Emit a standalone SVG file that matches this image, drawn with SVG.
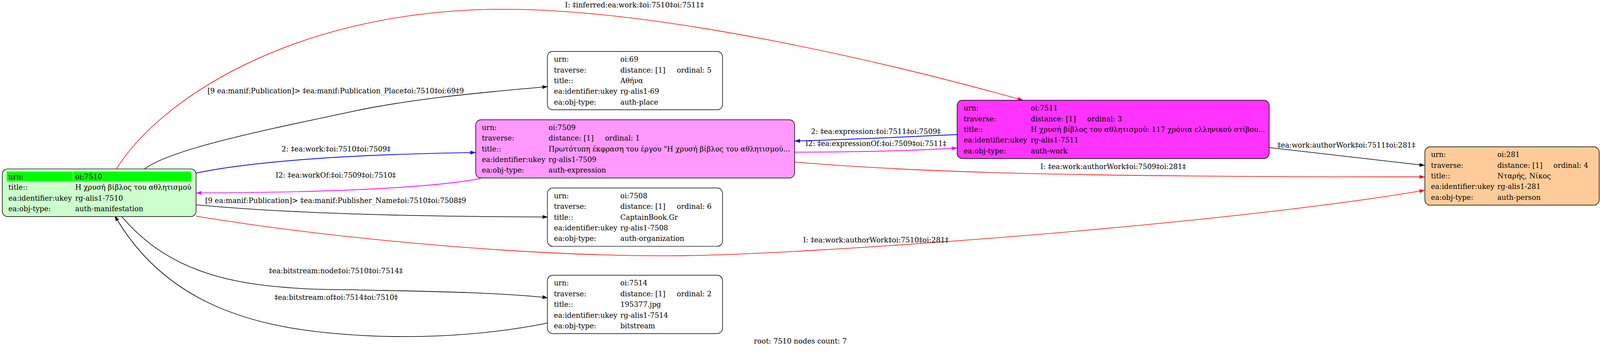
<svg xmlns="http://www.w3.org/2000/svg" width="4199" height="917" viewBox="0 0 4199 917">
<style>
text{font-family:"DejaVu Serif","Liberation Serif",serif;font-size:18.67px;fill:#000}
.lbl{text-anchor:middle}
.box{stroke:#000;stroke-width:1.5}
.e{fill:none;stroke-width:1.6}
.k{stroke:#000}.r{stroke:#ff0000}.b{stroke:#0000ff;stroke-width:2}.m{stroke:#ff00ff;stroke-width:2}
</style>
<defs>
<marker id="ak" markerUnits="userSpaceOnUse" markerWidth="16" markerHeight="12" refX="14" refY="5" orient="auto"><path d="M0,0L14,5L0,10z" fill="#000"/></marker>
<marker id="ar" markerUnits="userSpaceOnUse" markerWidth="16" markerHeight="12" refX="14" refY="5" orient="auto"><path d="M0,0L14,5L0,10z" fill="#ff0000"/></marker>
<marker id="ab" markerUnits="userSpaceOnUse" markerWidth="16" markerHeight="12" refX="14" refY="5" orient="auto"><path d="M0,0L14,5L0,10z" fill="#0000ff"/></marker>
<marker id="am" markerUnits="userSpaceOnUse" markerWidth="16" markerHeight="12" refX="14" refY="5" orient="auto"><path d="M0,0L14,5L0,10z" fill="#ff00ff"/></marker>
</defs>
<rect width="4199" height="917" fill="#fff"/>
<g id="graph" transform="scale(0.9766)">
<g id="connectors">
<path class="e r" marker-end="url(#ar)" d="M305,443 C420,260 760,40 1267,25 C1700,12 2350,170 2682,263"/>
<path class="e k" marker-end="url(#ak)" d="M379,443 C450,390 700,340 925,292 C1100,255 1300,240 1436,227"/>
<path class="e b" marker-end="url(#ab)" d="M514,454 C650,425 900,405 1247,400"/>
<path class="e m" marker-end="url(#am)" d="M1260,468 C1150,490 900,505 514,506"/>
<path class="e k" marker-end="url(#ak)" d="M514,537 C700,555 1000,568 1436,569"/>
<path class="e r" marker-end="url(#ar)" d="M514,567 C900,630 1400,672 1755,671 C2100,670 3200,590 3735,499"/>
<path class="e k" marker-end="url(#ak)" d="M319,568 C450,720 620,760 925,760 C1100,764 1300,766 1436,781"/>
<path class="e k" marker-end="url(#ak)" d="M1436,847 C1250,885 1050,890 880,875 C650,855 430,790 301,566"/>
<path class="e b" marker-end="url(#ab)" d="M2509,353 C2400,358 2250,365 2083,370"/>
<path class="e m" marker-end="url(#am)" d="M2083,399 C2250,399 2400,395 2509,388"/>
<path class="e r" marker-end="url(#ar)" d="M2083,425 C2400,452 2800,464 3735,464"/>
<path class="e k" marker-end="url(#ak)" d="M3327,387 L3735,434"/>
<text class="lbl" x="1663" y="19">I: ‡inferred:ea:work:‡oi:7510‡oi:7511‡</text>
<text class="lbl" x="880" y="245">[9 ea:manif:Publication]&gt; ‡ea:manif:Publication_Place‡oi:7510‡oi:69‡9</text>
<text class="lbl" x="881" y="397">2: ‡ea:work:‡oi:7510‡oi:7509‡</text>
<text class="lbl" x="880" y="466">I2: ‡ea:workOf:‡oi:7509‡oi:7510‡</text>
<text class="lbl" x="880" y="532">[9 ea:manif:Publication]&gt; ‡ea:manif:Publisher_Name‡oi:7510‡oi:7508‡9</text>
<text class="lbl" x="2296" y="636">I: ‡ea:work:authorWork‡oi:7510‡oi:281‡</text>
<text class="lbl" x="880" y="717">‡ea:bitstream:node‡oi:7510‡oi:7514‡</text>
<text class="lbl" x="881" y="786">‡ea:bitstream:of‡oi:7514‡oi:7510‡</text>
<text class="lbl" x="2296" y="351">2: ‡ea:expression:‡oi:7511‡oi:7509‡</text>
<text class="lbl" x="2296" y="383">I2: ‡ea:expressionOf:‡oi:7509‡oi:7511‡</text>
<text class="lbl" x="2918" y="443">I: ‡ea:work:authorWork‡oi:7509‡oi:281‡</text>
<text class="lbl" x="3529" y="387">‡ea:work:authorWork‡oi:7511‡oi:281‡</text>
</g>
<g id="n7510">
<rect class="box" x="6" y="443" width="508" height="125" rx="14" fill="#ccffcc"/>
<rect x="18" y="450" width="173" height="26" fill="#00ff00"/>
<rect x="193" y="450" width="308" height="26" fill="#00ff00"/>
<text x="22" y="470">urn:</text><text x="197" y="470">oi:7510</text>
<text x="22" y="498">title::</text><text x="197" y="498">Η χρυσή βίβλος του αθλητισμού</text>
<text x="22" y="526">ea:identifier:ukey</text><text x="197" y="526">rg-alis1-7510</text>
<text x="22" y="554">ea:obj-type:</text><text x="197" y="554">auth-manifestation</text>
</g>
<g id="n69">
<rect class="box" x="1435" y="135" width="459" height="153" rx="14" fill="#fff"/>
<text x="1452" y="162">urn:</text><text x="1626" y="162">oi:69</text>
<text x="1452" y="190">traverse:</text><text x="1626" y="190">distance: [1]</text><text x="1774" y="190">ordinal: 5</text>
<text x="1452" y="218">title::</text><text x="1626" y="218">Αθήνα</text>
<text x="1452" y="246">ea:identifier:ukey</text><text x="1626" y="246">rg-alis1-69</text>
<text x="1452" y="274">ea:obj-type:</text><text x="1626" y="274">auth-place</text>
</g>
<g id="n7509">
<rect class="box" x="1247" y="314" width="836" height="153" rx="14" fill="#ff99ff"/>
<text x="1263" y="341">urn:</text><text x="1438" y="341">oi:7509</text>
<text x="1263" y="369">traverse:</text><text x="1438" y="369">distance: [1]</text><text x="1586" y="369">ordinal: 1</text>
<text x="1263" y="397">title::</text><text x="1438" y="397">Πρωτότυπη έκφραση του έργου "Η χρυσή βίβλος του αθλητισμού...</text>
<text x="1263" y="425">ea:identifier:ukey</text><text x="1438" y="425">rg-alis1-7509</text>
<text x="1263" y="453">ea:obj-type:</text><text x="1438" y="453">auth-expression</text>
</g>
<g id="n7508">
<rect class="box" x="1435" y="493" width="459" height="153" rx="14" fill="#fff"/>
<text x="1452" y="520">urn:</text><text x="1626" y="520">oi:7508</text>
<text x="1452" y="548">traverse:</text><text x="1626" y="548">distance: [1]</text><text x="1774" y="548">ordinal: 6</text>
<text x="1452" y="576">title::</text><text x="1626" y="576">CaptainBook.Gr</text>
<text x="1452" y="604">ea:identifier:ukey</text><text x="1626" y="604">rg-alis1-7508</text>
<text x="1452" y="632">ea:obj-type:</text><text x="1626" y="632">auth-organization</text>
</g>
<g id="n7514">
<rect class="box" x="1435" y="722" width="459" height="153" rx="14" fill="#fff"/>
<text x="1452" y="749">urn:</text><text x="1626" y="749">oi:7514</text>
<text x="1452" y="777">traverse:</text><text x="1626" y="777">distance: [1]</text><text x="1774" y="777">ordinal: 2</text>
<text x="1452" y="805">title::</text><text x="1626" y="805">195377.jpg</text>
<text x="1452" y="833">ea:identifier:ukey</text><text x="1626" y="833">rg-alis1-7514</text>
<text x="1452" y="861">ea:obj-type:</text><text x="1626" y="861">bitstream</text>
</g>
<g id="n7511">
<rect class="box" x="2509" y="263" width="818" height="153" rx="14" fill="#ff33ff"/>
<text x="2526" y="290">urn:</text><text x="2702" y="290">oi:7511</text>
<text x="2526" y="318">traverse:</text><text x="2702" y="318">distance: [1]</text><text x="2850" y="318">ordinal: 3</text>
<text x="2526" y="346">title::</text><text x="2702" y="346">Η χρυσή βίβλος του αθλητισμού: 117 χρόνια ελληνικού στίβου...</text>
<text x="2526" y="374">ea:identifier:ukey</text><text x="2702" y="374">rg-alis1-7511</text>
<text x="2526" y="402">ea:obj-type:</text><text x="2702" y="402">auth-work</text>
</g>
<g id="n281">
<rect class="box" x="3735" y="385" width="457" height="153" rx="14" fill="#ffcc99"/>
<text x="3751" y="412">urn:</text><text x="3925" y="412">oi:281</text>
<text x="3751" y="440">traverse:</text><text x="3925" y="440">distance: [1]</text><text x="4072" y="440">ordinal: 4</text>
<text x="3751" y="468">title::</text><text x="3925" y="468">Νταρής, Νίκος</text>
<text x="3751" y="496">ea:identifier:ukey</text><text x="3925" y="496">rg-alis1-281</text>
<text x="3751" y="524">ea:obj-type:</text><text x="3925" y="524">auth-person</text>
</g>
<text class="lbl" x="2098" y="901">root: 7510 nodes count: 7</text>
</g>
</svg>
